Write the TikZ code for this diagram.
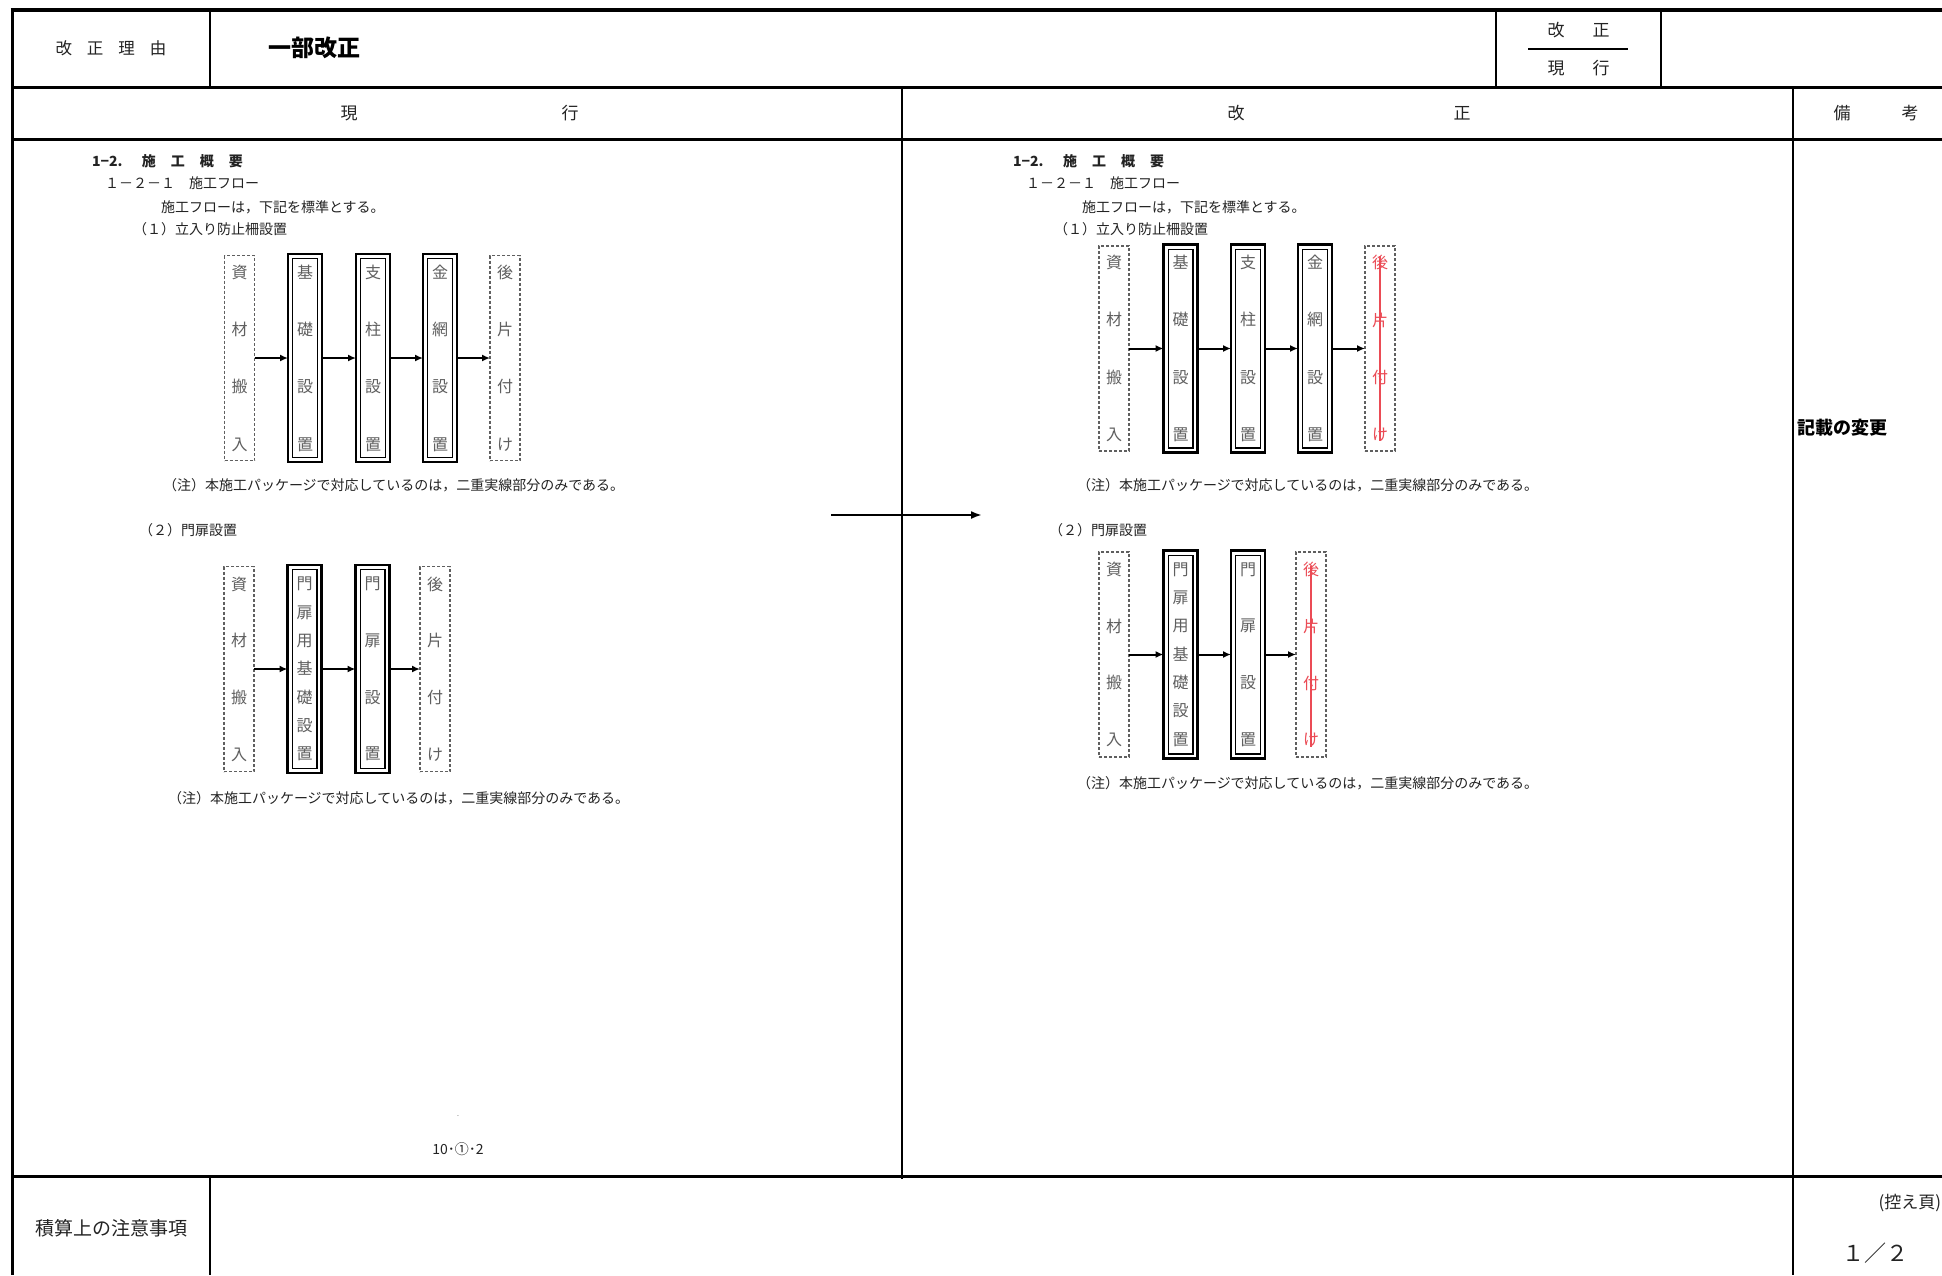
\documentclass[tikz,border=0pt]{standalone}
\usepackage{fontspec}
\setmainfont{Noto Sans CJK JP}
\usetikzlibrary{arrows.meta}
\definecolor{ink}{RGB}{35,35,35}
\definecolor{boxtxt}{RGB}{95,95,95}
\definecolor{dashc}{RGB}{95,95,95}
\definecolor{redmark}{RGB}{235,75,85}
\begin{document}
\begin{tikzpicture}[x=1pt,y=-1pt,
  every node/.style={inner sep=0pt,outer sep=0pt,text=ink},
  fs/.style={font=\fontsize{#1}{#1}\selectfont},
  fsb/.style={font=\fontsize{#1}{#1}\selectfont\bfseries},
  body/.style={fs=14,anchor=west},
  rule/.style={line width=3pt},
  vrule/.style={line width=2pt},
  dashbox/.style={draw=dashc,line width=1.2pt,dash pattern=on 3pt off 2pt,minimum width=30pt,minimum height=205pt,align=center,text=boxtxt},
  dblbox/.style={draw=black,line width=2.2pt,minimum width=34pt,minimum height=208pt,align=center,text=boxtxt,
     path picture={\draw[line width=1.2pt] ([shift={(4.6,4.6)}]path picture bounding box.north west) rectangle ([shift={(-4.6,-4.6)}]path picture bounding box.south east);}},
  gfour/.style={font=\fontsize{16}{57.3}\selectfont},
  gseven/.style={font=\fontsize{16}{28.3}\selectfont},
  gfourw/.style={font=\fontsize{16}{56.7}\selectfont},
  arr/.style={line width=2pt,-{Latex[length=8pt,width=7pt]}},
  strike/.style={draw=redmark,line width=1.3pt},
  redtxt/.style={text=redmark}]
\useasboundingbox (0,0) rectangle (1942,1275);
\fill[white] (0,0) rectangle (1942,1275);

% ---------- table rules ----------
\draw[line width=4pt] (10.5,10) -- (1942,10);
\draw[line width=3.5pt] (12.5,8) -- (12.5,1275);
\draw[rule] (12,87) -- (1942,87);
\draw[rule] (12,139) -- (1942,139);
\draw[rule] (12,1176) -- (1942,1176);
\draw[vrule] (210,10) -- (210,89);
\draw[vrule] (1496,10) -- (1496,89);
\draw[vrule] (1661,10) -- (1661,89);
\draw[vrule] (902,87) -- (902,1179);
\draw[vrule] (1793,87) -- (1793,1275);
\draw[vrule] (210,1176) -- (210,1275);

% ---------- top row ----------
\node[fs=16.5] (reason) at (111,48) {改\hspace{15pt}正\hspace{15pt}理\hspace{15pt}由};
\node[fsb=23,anchor=west,text=black] (ichibu) at (268,48) {一部改正};
\node[fs=17] (kaiseiA) at (1578.5,30) {改\hspace{28pt}正};
\node[fs=17] (genkoA) at (1578.5,68) {現\hspace{28pt}行};
\draw[line width=1.8pt] (1528,49) -- (1628,49);

% ---------- header row ----------
\node[fs=17] (hGenko) at (459.5,113) {現\hspace{204pt}行};
\node[fs=17] (hKaisei) at (1349,113) {改\hspace{209pt}正};
\node[fs=17] (hBiko) at (1876,113) {備\hspace{51pt}考};

% ---------- left (current) ----------
\node[fsb=14,anchor=west] (tL1) at (92,161) {\makebox[30pt][l]{1−2.}\hspace{20pt}施\hspace{15pt}工\hspace{15pt}概\hspace{15pt}要};
\node[body] (tL2) at (105,183) {１－２－１　施工フロー};
\node[body] (tL3) at (161,207) {施工フローは，下記を標準とする。};
\node[body] (tL4) at (133,229) {（１）立入り防止柵設置};

\node[dashbox,gfour] (s1L) at (239.5,358) {資\\材\\搬\\入};
\node[dblbox,gfour] (k1L) at (305,358) {基\\礎\\設\\置};
\node[dblbox,gfour] (c1L) at (373,358) {支\\柱\\設\\置};
\node[dblbox,gfour] (m1L) at (440,358) {金\\網\\設\\置};
\node[dashbox,gfour] (a1L) at (505,358) {後\\片\\付\\け};
\draw[arr] (s1L.east) -- (k1L.west);
\draw[arr] (k1L.east) -- (c1L.west);
\draw[arr] (c1L.east) -- (m1L.west);
\draw[arr] (m1L.east) -- (a1L.west);

\node[body] (nL1) at (163,485) {（注）本施工パッケージで対応しているのは，二重実線部分のみである。};
\node[body] (tL5) at (139,530) {（２）門扉設置};

\node[dashbox,gfourw] (s2L) at (239,669) {資\\材\\搬\\入};
\node[dblbox,gseven] (k2L) at (304.5,669) {門\\扉\\用\\基\\礎\\設\\置};
\node[dblbox,gfourw] (d2L) at (372.5,669) {門\\扉\\設\\置};
\node[dashbox,gfourw] (a2L) at (435,669) {後\\片\\付\\け};
\draw[arr] (s2L.east) -- (k2L.west);
\draw[arr] (k2L.east) -- (d2L.west);
\draw[arr] (d2L.east) -- (a2L.west);

\node[body] (nL2) at (168,798) {（注）本施工パッケージで対応しているのは，二重実線部分のみである。};

\node[fs=7] (pgdot) at (458,1116) {.};
\node[fs=14] (pgno) at (458,1149) {10･①･2};

% ---------- big arrow ----------
\coordinate (bigL) at (831,515);
\coordinate (bigR) at (982,515);
\draw[line width=2pt,-{Latex[length=11pt,width=8pt]}] (bigL) -- (bigR);

% ---------- right (revised) ----------
\node[fsb=14,anchor=west] (tR1) at (1013,161) {\makebox[30pt][l]{1−2.}\hspace{20pt}施\hspace{15pt}工\hspace{15pt}概\hspace{15pt}要};
\node[body] (tR2) at (1026,183) {１－２－１　施工フロー};
\node[body] (tR3) at (1082,207) {施工フローは，下記を標準とする。};
\node[body] (tR4) at (1054,229) {（１）立入り防止柵設置};

\node[dashbox,gfour] (s1R) at (1114,348.5) {資\\材\\搬\\入};
\node[dblbox,gfour] (k1R) at (1180.5,348.5) {基\\礎\\設\\置};
\node[dblbox,gfour] (c1R) at (1248,348.5) {支\\柱\\設\\置};
\node[dblbox,gfour] (m1R) at (1315,348.5) {金\\網\\設\\置};
\node[dashbox,gfour,redtxt] (a1R) at (1380,348.5) {後\\片\\付\\け};
\draw[arr] (s1R.east) -- (k1R.west);
\draw[arr] (k1R.east) -- (c1R.west);
\draw[arr] (c1R.east) -- (m1R.west);
\draw[arr] (m1R.east) -- (a1R.west);
\draw[strike] ([yshift=-10pt]a1R.north) -- ([yshift=10pt]a1R.south);

\node[body] (nR1) at (1077,485) {（注）本施工パッケージで対応しているのは，二重実線部分のみである。};
\node[body] (tR5) at (1049,530) {（２）門扉設置};

\node[dashbox,gfourw] (s2R) at (1114,654.5) {資\\材\\搬\\入};
\node[dblbox,gseven] (k2R) at (1180.5,654.5) {門\\扉\\用\\基\\礎\\設\\置};
\node[dblbox,gfourw] (d2R) at (1248,654.5) {門\\扉\\設\\置};
\node[dashbox,gfourw,redtxt] (a2R) at (1311,654.5) {後\\片\\付\\け};
\draw[arr] (s2R.east) -- (k2R.west);
\draw[arr] (k2R.east) -- (d2R.west);
\draw[arr] (d2R.east) -- (a2R.west);
\draw[strike] ([yshift=-14pt]a2R.north) -- ([yshift=10pt]a2R.south);

\node[body] (nR2) at (1077,783) {（注）本施工パッケージで対応しているのは，二重実線部分のみである。};

% ---------- remarks column ----------
\node[fsb=18,anchor=west,text=black] (remark) at (1797,428) {記載の変更};

% ---------- bottom row ----------
\node[fs=19] (sekisan) at (111,1228) {積算上の注意事項};
\node[fs=17,anchor=east] (hikae) at (1941,1203) {(控え頁)};
\node[fs=22] (pageof) at (1875,1253) {１／２};
\end{tikzpicture}
\end{document}
